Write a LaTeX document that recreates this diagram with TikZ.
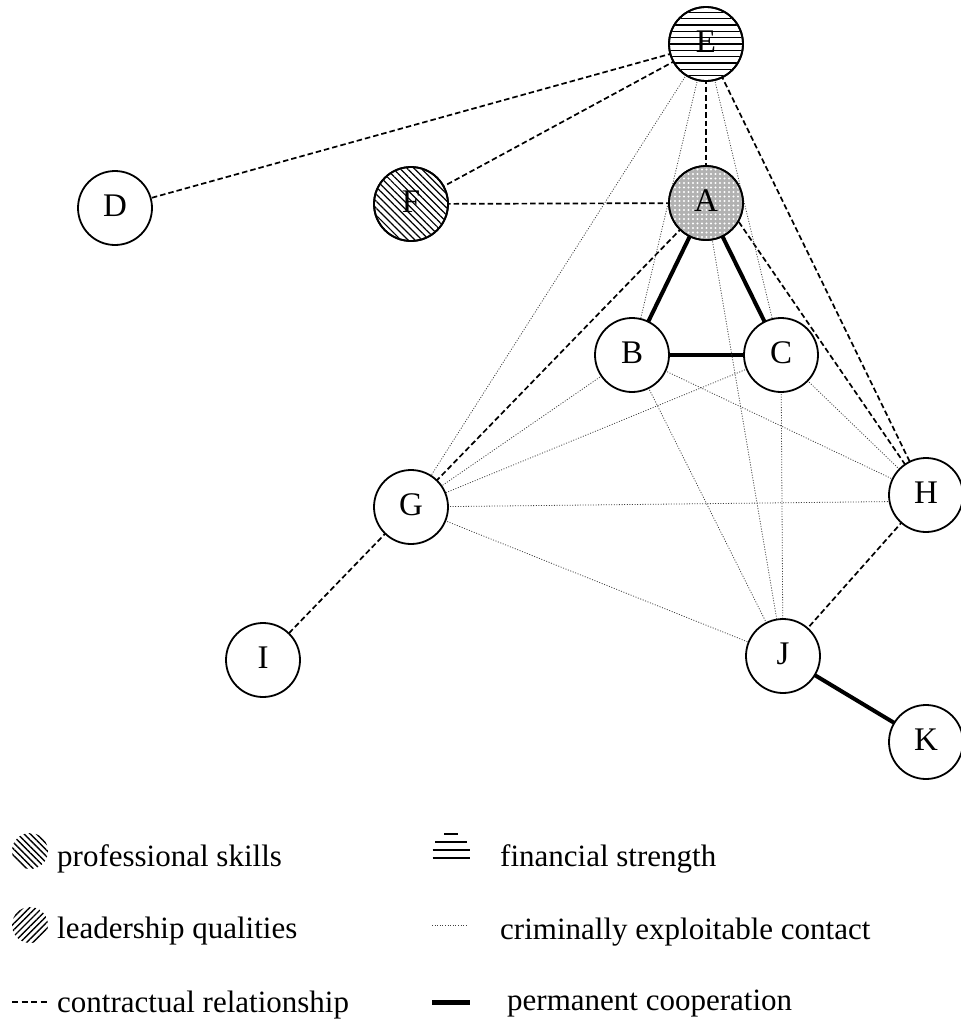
\documentclass[tikz,border=0pt]{standalone}
\usepackage{fontspec}
\setmainfont{Liberation Serif}
\usetikzlibrary{patterns,patterns.meta,backgrounds,calc}
\begin{document}
\begin{tikzpicture}[x=1pt,y=-1pt,
  person/.style={circle,draw,line width=1.8pt,fill=white,minimum size=74pt,inner sep=0pt,text height=16pt,text depth=0pt,font=\fontsize{33}{33}\selectfont},
  lbl/.style={inner sep=0pt,text height=16pt,text depth=0pt,font=\fontsize{33}{33}\selectfont},
  contract/.style={line width=1.7pt,dash pattern=on 5.5pt off 3pt},
  crim/.style={line width=0.8pt,dash pattern=on 1pt off 1.6pt,black!75},
  perm/.style={line width=4pt},
  legtext/.style={anchor=base west,inner sep=0pt,font=\fontsize{31}{31}\selectfont}]
\useasboundingbox (0,0) rectangle (961,1020);
\node[person] (E) at (706,44) {};
\node[person] (D) at (115,208) {D};
\node[person] (F) at (411,204) {};
\node[person] (A) at (706,203) {};
\node[person] (B) at (632,355) {B};
\node[person] (C) at (781,355) {C};
\node[person] (G) at (411,507) {G};
\node[person] (H) at (926,495) {H};
\node[person] (I) at (263,660) {I};
\node[person] (J) at (783,656) {J};
\node[person] (K) at (926,742) {K};
% patterns
\begin{scope}
\clip (E.center) circle (36pt);
\foreach \i in {-6,...,6} \draw[line width=1.3pt] ($(E.center)+(-37,\i*6.3)$) -- ($(E.center)+(37,\i*6.3)$);
\end{scope}
\fill[pattern={Lines[angle=-45,distance=5pt,line width=1.2pt]}] (F.center) circle (36pt);
\fill[gray!60] (A.center) circle (36pt);
\fill[pattern={Dots[distance=4.5pt,radius=1.1pt]},pattern color=white] (A.center) circle (36pt);
\foreach \n in {E,F,A} \draw[line width=1.8pt] (\n.center) circle (37pt);
\node[lbl] (Et) at (E.center) {E};
\node[lbl] (Ft) at (F.center) {F};
\node[lbl] (At) at (A.center) {A};
\begin{scope}[on background layer]
\foreach \a/\b in {E/D,E/F,F/A,E/A,E/H,A/G,G/I,H/J}
  \draw[contract] (\a.center) -- (\b.center);
\draw[contract] (A.-30) -- (H.center);
\foreach \a/\b in {A/B,A/C,B/C,J/K}
  \draw[perm] (\a.center) -- (\b.center);
\foreach \a/\b in {E/G,E/B,E/C,A/J,B/G,B/H,B/J,C/G,C/H,C/J,G/J}
  \draw[crim] (\a.center) -- (\b.center);
\draw[crim] (G.center) -- (H.-170);
\end{scope}
% legend
\fill[pattern={Lines[angle=-45,distance=4.5pt,line width=1.4pt]}] (30,851) circle (18pt);
\node[legtext] (l1) at (57,866) {professional skills};
\fill[pattern={Lines[angle=45,distance=4.5pt,line width=1.4pt]}] (30,925) circle (18pt);
\node[legtext] (l2) at (57,938) {leadership qualities};
\coordinate (d1) at (12,1002); \coordinate (d2) at (48,1002);
\draw[contract,dash pattern=on 6pt off 3.5pt] (d1) -- (d2);
\node[legtext] (l3) at (57,1012) {contractual relationship};
\coordinate (f1) at (451,834);
\draw[line width=1.6pt] ($(f1)+(-7,0)$) -- ($(f1)+(7,0)$);
\draw[line width=1.8pt] ($(f1)+(-16,8)$) -- ($(f1)+(16,8)$);
\draw[line width=2pt] ($(f1)+(-18.5,16)$) -- ($(f1)+(18.5,16)$);
\draw[line width=2pt] ($(f1)+(-18.5,24)$) -- ($(f1)+(18.5,24)$);
\node[legtext] (l4) at (500,866) {financial strength};
\coordinate (c1) at (432,925); \coordinate (c2) at (468,925);
\draw[crim] (c1) -- (c2);
\node[legtext] (l5) at (500,939) {criminally exploitable contact};
\coordinate (p1) at (432,1002); \coordinate (p2) at (470,1002);
\draw[perm,line width=5pt] (p1) -- (p2);
\node[legtext] (l6) at (507,1010) {permanent cooperation};
\end{tikzpicture}
\end{document}
